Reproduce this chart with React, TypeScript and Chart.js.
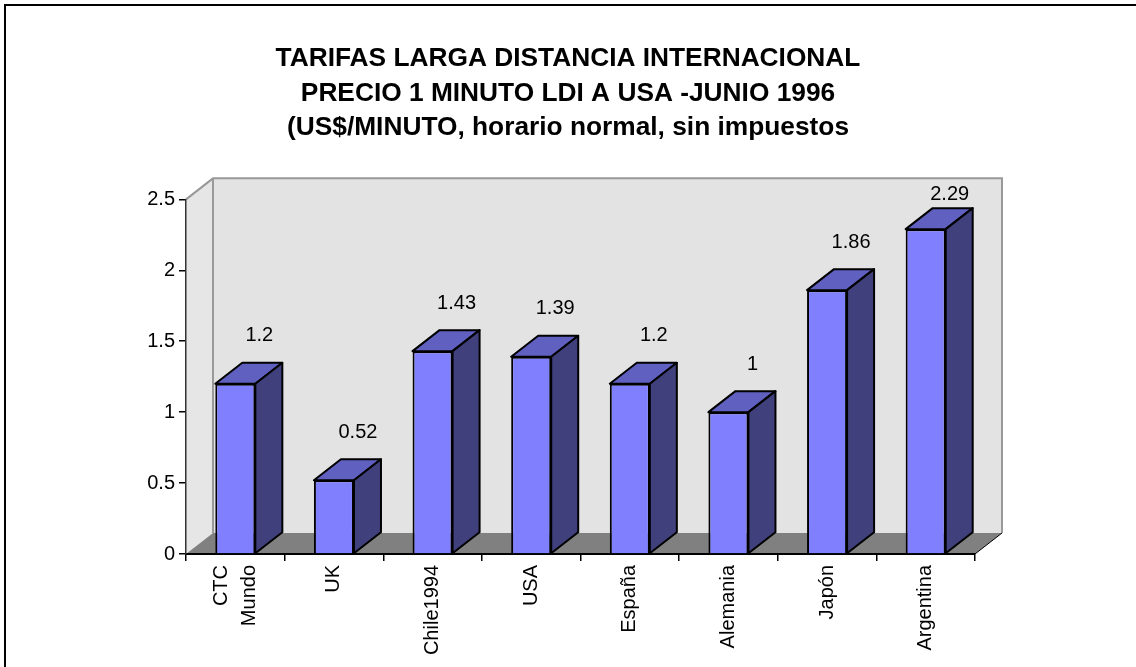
import React, { useEffect, useRef } from "react";
import { Chart, registerables } from "chart.js";

Chart.register(...registerables);

const titleLines = [
  "TARIFAS LARGA DISTANCIA INTERNACIONAL",
  "PRECIO 1 MINUTO LDI A USA -JUNIO 1996",
  "(US$/MINUTO, horario normal, sin impuestos",
];
const categories: (string | string[])[] = [
  ["CTC", "Mundo"],
  "UK",
  "Chile1994",
  "USA",
  "España",
  "Alemania",
  "Japón",
  "Argentina",
];
const prices = [1.2, 0.52, 1.43, 1.39, 1.2, 1, 1.86, 2.29];
const yMin = 0;
const yMax = 2.5;
const yStep = 0.5;

const FONT = "'Liberation Sans', Arial, sans-serif";
const DX = 27;
const DY = 21;

const threeD = {
  id: "threeD",
  beforeDraw(chart: any) {
    const ctx = chart.ctx;
    const a = chart.chartArea;
    const { left, right, top, bottom } = a;
    // shift multi-line category labels so their block is centred on the tick
    const xs = chart.scales.x;
    const items = xs.getLabelItems();
    items.forEach((it: any) => {
      if (Array.isArray(it.label) && !it._shifted) {
        const lh = it.font.lineHeight;
        it.options.translation[0] -= ((it.label.length - 1) * lh) / 2;
        it._shifted = true;
      }
    });
    ctx.save();
    ctx.fillStyle = "#fff";
    ctx.fillRect(0, 0, chart.width, chart.height);
    // outer frame (top and left edges)
    ctx.strokeStyle = "#000";
    ctx.lineWidth = 2;
    ctx.beginPath();
    ctx.moveTo(5, chart.height + 5);
    ctx.lineTo(5, 5);
    ctx.lineTo(chart.width + 5, 5);
    ctx.stroke();
    // back wall
    ctx.fillStyle = "#e3e3e3";
    ctx.fillRect(left + DX, top - DY, right - left, bottom - top);
    // side wall
    ctx.fillStyle = "#e6e6e6";
    ctx.beginPath();
    ctx.moveTo(left, top);
    ctx.lineTo(left + DX, top - DY);
    ctx.lineTo(left + DX, bottom - DY);
    ctx.lineTo(left, bottom);
    ctx.closePath();
    ctx.fill();
    // floor
    ctx.fillStyle = "#808080";
    ctx.beginPath();
    ctx.moveTo(left, bottom);
    ctx.lineTo(left + DX, bottom - DY);
    ctx.lineTo(right + DX, bottom - DY);
    ctx.lineTo(right, bottom);
    ctx.closePath();
    ctx.fill();
    // wall edges
    ctx.strokeStyle = "#999";
    ctx.lineWidth = 2;
    ctx.beginPath();
    ctx.moveTo(left, top);
    ctx.lineTo(left + DX, top - DY);
    ctx.lineTo(right + DX, top - DY);
    ctx.lineTo(right + DX, bottom - DY);
    ctx.moveTo(left + DX, top - DY);
    ctx.lineTo(left + DX, bottom - DY);
    ctx.stroke();
    ctx.strokeStyle = "#000";
    ctx.lineWidth = 1;
    ctx.beginPath();
    ctx.moveTo(right, bottom);
    ctx.lineTo(right + DX, bottom - DY);
    ctx.stroke();
    ctx.restore();
  },
  afterDatasetsDraw(chart: any) {
    const ctx = chart.ctx;
    const meta = chart.getDatasetMeta(0);
    const yScale = chart.scales.y;
    ctx.save();
    ctx.lineWidth = 2;
    ctx.lineJoin = "round";
    ctx.strokeStyle = "#000";
    meta.data.forEach((bar: any, i: number) => {
      const { x, y, base, width } = bar.getProps(["x", "y", "base", "width"], true);
      const l = x - width / 2;
      const r = x + width / 2;
      // top face
      ctx.fillStyle = "#6060c0";
      ctx.beginPath();
      ctx.moveTo(l, y);
      ctx.lineTo(l + DX, y - DY);
      ctx.lineTo(r + DX, y - DY);
      ctx.lineTo(r, y);
      ctx.closePath();
      ctx.fill();
      ctx.stroke();
      // side face
      ctx.fillStyle = "#40407c";
      ctx.beginPath();
      ctx.moveTo(r, y);
      ctx.lineTo(r + DX, y - DY);
      ctx.lineTo(r + DX, base - DY);
      ctx.lineTo(r, base);
      ctx.closePath();
      ctx.fill();
      ctx.stroke();
      // value label
      const v = chart.data.datasets[0].data[i];
      ctx.fillStyle = "#000";
      ctx.font = `20px ${FONT}`;
      ctx.textAlign = "center";
      ctx.textBaseline = "middle";
      const ly = Math.max(y - 48, yScale.getPixelForValue(yMax) - 5);
      ctx.fillText(String(v), x + 24, ly);
    });
    ctx.restore();
  },
};

export default function App() {
  const ref = useRef<HTMLCanvasElement>(null);
  useEffect(() => {
    if (!ref.current) return;
    const chart = new Chart(ref.current, {
      type: "bar",
      data: {
        labels: categories,
        datasets: [
          {
            data: prices,
            backgroundColor: "#8080ff",
            borderColor: "#000",
            borderWidth: 2,
            categoryPercentage: 1,
            barPercentage: 0.406,
          },
        ],
      },
      options: {
        responsive: false,
        animation: false,
        layout: { padding: 0 },
        plugins: {
          legend: { display: false },
          tooltip: { enabled: false },
          title: {
            display: true,
            text: titleLines,
            color: "#000",
            font: { family: FONT, size: 26.3, weight: "bold", lineHeight: 1.31 },
            padding: { top: 42, bottom: 54 },
          },
        },
        scales: {
          x: {
            afterFit: (s: any) => {
              s.height = 113;
            },
            grid: {
              display: true,
              drawOnChartArea: false,
              drawTicks: true,
              tickLength: 7,
              color: "#000",
              lineWidth: 1.5,
              offset: true,
            },
            border: { display: true, color: "#000", width: 2 },
            ticks: {
              color: "#000",
              font: { family: FONT, size: 20, lineHeight: 1.4 },
              minRotation: 90,
              maxRotation: 90,
              padding: 4,
              autoSkip: false,
            },
          },
          y: {
            min: yMin,
            max: yMax,
            afterFit: (s: any) => {
              s.width = 186;
            },
            grid: {
              display: true,
              drawOnChartArea: false,
              drawTicks: true,
              tickLength: 7,
              color: "#000",
              lineWidth: 1.5,
            },
            border: { display: true, color: "#333", width: 1.5 },
            ticks: {
              stepSize: yStep,
              color: "#000",
              font: { family: FONT, size: 20 },
              padding: 4,
              callback: (v: any) => String(v),
            },
          },
          spacer: {
            type: "linear",
            position: "right",
            display: true,
            afterFit: (s: any) => {
              s.width = 161;
            },
            grid: { display: false },
            border: { display: false },
            ticks: { display: false },
          },
        },
      },
      plugins: [threeD],
    });
    return () => chart.destroy();
  }, []);
  return (
    <canvas
      ref={ref}
      width={1136}
      height={667}
      style={{ position: "absolute", left: 0, top: 0, display: "block" }}
    />
  );
}
